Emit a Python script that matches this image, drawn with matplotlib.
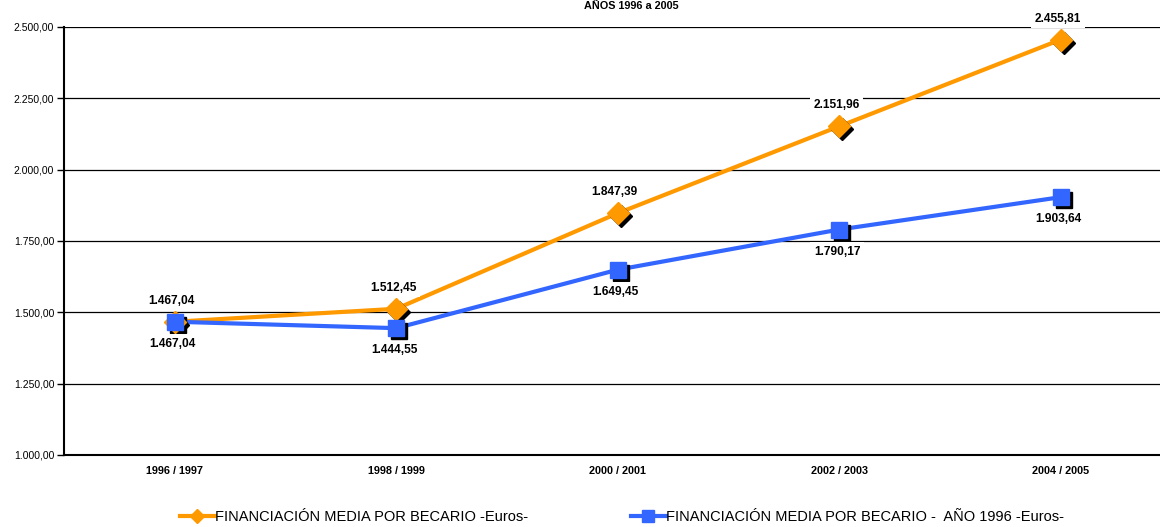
import matplotlib
matplotlib.use("Agg")
import matplotlib.pyplot as plt
import matplotlib.transforms as mtransforms
from matplotlib.lines import Line2D

categories = ["1996 / 1997", "1998 / 1999", "2000 / 2001", "2002 / 2003", "2004 / 2005"]
financiacion = [1467.04, 1512.45, 1847.39, 2151.96, 2455.81]
financiacion_1996 = [1467.04, 1444.55, 1649.45, 1790.17, 1903.64]
series_names = ["FINANCIACIÓN MEDIA POR BECARIO -Euros-",
                "FINANCIACIÓN MEDIA POR BECARIO -  AÑO 1996 -Euros-"]
yticks = [1000, 1250, 1500, 1750, 2000, 2250, 2500]
title = "AÑOS 1996 a 2005"

plt.rcParams['font.family'] = ['Liberation Sans', 'DejaVu Sans']

def es_fmt(v):
    s = f"{v:,.2f}"
    return s.replace(",", "X").replace(".", ",").replace("X", ".")

fig = plt.figure(figsize=(11.6, 5.27), dpi=100)
ax = fig.add_axes([64/1160, 1-455/527, (1171.5-64)/1160, (455-27)/527])
x = list(range(len(categories)))

orange = "#FF9900"
blue = "#3366FF"

ax.set_ylim(1000, 2500)
ax.set_xlim(-0.5, len(categories)-0.5)
ax.set_yticks(yticks)
ax.set_yticklabels([es_fmt(v) for v in yticks], fontsize=7.5)
ax.set_xticks(x)
ax.set_xticklabels(categories, fontsize=7.8, fontweight='bold')
ax.tick_params(axis='x', length=0, pad=8)
ax.tick_params(axis='y', length=5, width=1, pad=2)
ax.yaxis.grid(True, color='black', linewidth=0.9)
ax.set_axisbelow(True)
for s in ['top', 'right']:
    ax.spines[s].set_visible(False)
ax.spines['left'].set_linewidth(1.5)
ax.spines['bottom'].set_linewidth(1.5)

shadow = mtransforms.offset_copy(ax.transData, fig=fig, x=3, y=-3, units='dots')

# lines
ax.plot(x, financiacion, color=orange, lw=3, zorder=3, solid_capstyle='butt')
ax.plot(x, financiacion_1996, color=blue, lw=3, zorder=3, solid_capstyle='butt')
# shadows
ax.plot(x, financiacion, ls='none', marker='D', ms=11, color='black', transform=shadow, zorder=4)
ax.plot(x, financiacion_1996, ls='none', marker='s', ms=12, color='black', transform=shadow, zorder=4)
# markers
ax.plot(x, financiacion, ls='none', marker='D', ms=11, color=orange, zorder=5)
ax.plot(x, financiacion_1996, ls='none', marker='s', ms=12, color=blue, zorder=5)

bbox = dict(boxstyle='square,pad=0.3', fc='white', ec='none')
for xi, v in zip(x, financiacion):
    ax.annotate(es_fmt(v), (xi, v), xytext=(-3, 21), textcoords='offset pixels',
                ha='center', va='center', fontsize=8.6, fontweight='bold', bbox=bbox, zorder=6)
for xi, v in zip(x, financiacion_1996):
    ax.annotate(es_fmt(v), (xi, v), xytext=(-2, -22), textcoords='offset pixels',
                ha='center', va='center', fontsize=8.6, fontweight='bold', bbox=bbox, zorder=6)

fig.text(631/1160, 1-6/527, title, ha='center', va='center', fontsize=7.8, fontweight='bold')

handles = [Line2D([0], [0], color=orange, lw=3, marker='D', ms=7),
           Line2D([0], [0], color=blue, lw=3, marker='s', ms=8)]
fig.legend(handles, series_names, loc='center', bbox_to_anchor=(622/1160, 1-517/527),
           ncol=2, frameon=False, fontsize=10.5, handlelength=2.4, handletextpad=0.05,
           columnspacing=7, borderaxespad=0)

fig.savefig("out.png", dpi=100)
